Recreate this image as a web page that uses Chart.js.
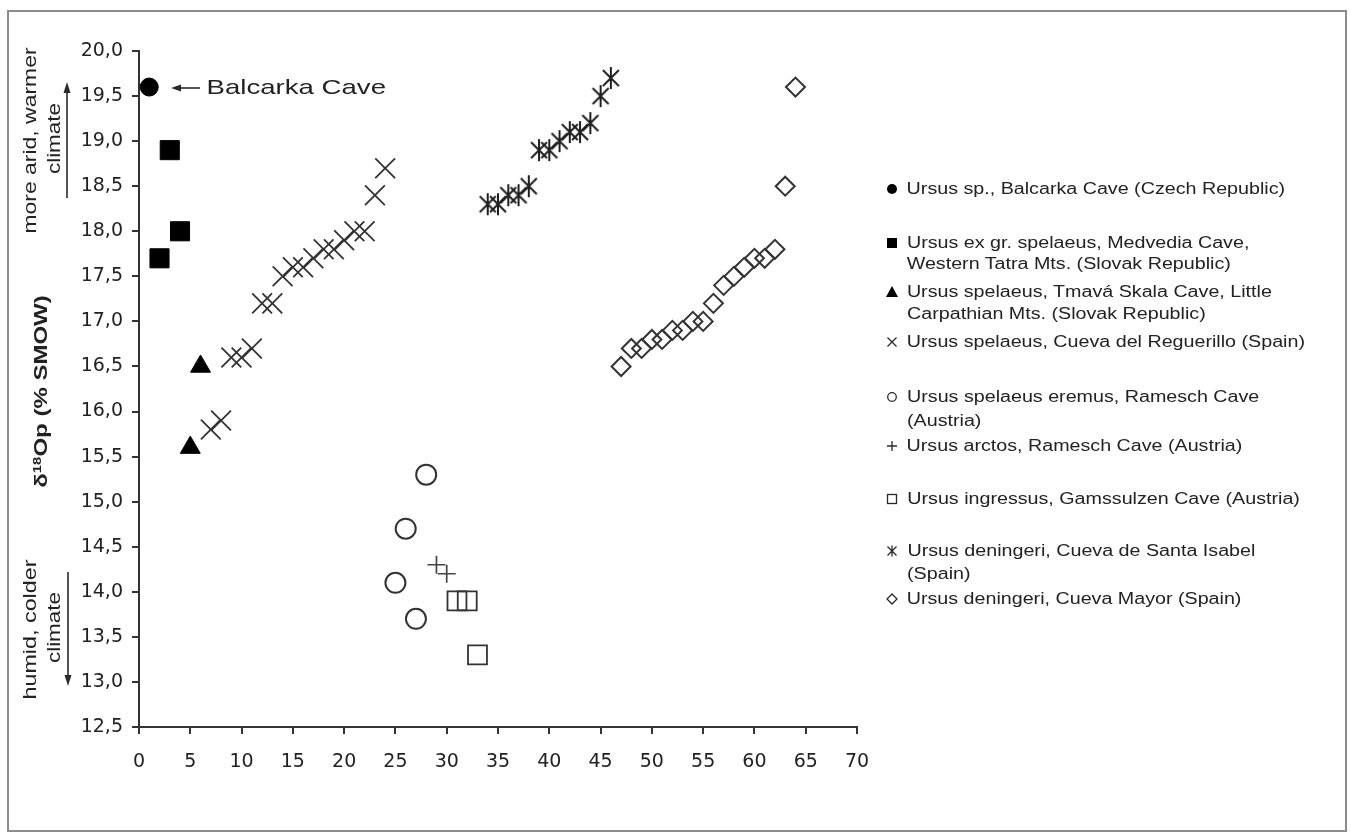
<!DOCTYPE html>
<html><head><meta charset="utf-8">
<script src="https://cdn.jsdelivr.net/npm/chart.js@4.4.1/dist/chart.umd.min.js"></script>
<style>
html,body{margin:0;padding:0;background:#fff;width:1351px;height:832px;overflow:hidden;}
#wrap{position:relative;width:1351px;height:832px;}
#c{position:absolute;left:0;top:0;}
#frame{position:absolute;left:7px;top:10px;width:1336px;height:818px;border:2px solid #8c8c8c;pointer-events:none;}
.t{position:absolute;white-space:nowrap;font-family:"Liberation Sans",Arial,sans-serif;color:#222;line-height:1;}
</style></head><body>
<div id="wrap">
<canvas id="c" width="1351" height="832"></canvas>
<svg id="ov" width="1351" height="832" style="position:absolute;left:0;top:0" xmlns="http://www.w3.org/2000/svg"></svg>
<div id="frame"></div>
</div>
<script>
// ---- data ----
const seriesNames = [
  "Ursus sp., Balcarka Cave (Czech Republic)",
  "Ursus ex gr. spelaeus, Medvedia Cave,\nWestern Tatra Mts. (Slovak Republic)",
  "Ursus spelaeus, Tmavá Skala Cave, Little\nCarpathian Mts. (Slovak Republic)",
  "Ursus spelaeus, Cueva del Reguerillo (Spain)",
  "Ursus spelaeus eremus, Ramesch Cave\n(Austria)",
  "Ursus arctos, Ramesch Cave (Austria)",
  "Ursus ingressus, Gamssulzen Cave (Austria)",
  "Ursus deningeri, Cueva de Santa Isabel\n(Spain)",
  "Ursus deningeri, Cueva Mayor (Spain)"
];
const balcarkaX = [1];
const balcarkaY = [19.6];
const medvediaX = [3, 4, 2];
const medvediaY = [18.9, 18.0, 17.7];
const tmavaX = [6, 5];
const tmavaY = [16.5, 15.6];
const reguerilloX = [7, 8, 9, 10, 11, 12, 13, 14, 15, 16, 17, 18, 19, 20, 21, 22, 23, 24];
const reguerilloY = [15.8, 15.9, 16.6, 16.6, 16.7, 17.2, 17.2, 17.5, 17.6, 17.6, 17.7, 17.8, 17.8, 17.9, 18.0, 18.0, 18.4, 18.7];
const rameschX = [28, 26, 25, 27];
const rameschY = [15.3, 14.7, 14.1, 13.7];
const arctosX = [29, 30];
const arctosY = [14.3, 14.2];
const gamssulzenX = [31, 32, 33];
const gamssulzenY = [13.9, 13.9, 13.3];
const santaIsabelX = [34, 35, 36, 37, 38, 39, 40, 41, 42, 43, 44, 45, 46];
const santaIsabelY = [18.3, 18.3, 18.4, 18.4, 18.5, 18.9, 18.9, 19.0, 19.1, 19.1, 19.2, 19.5, 19.7];
const mayorX = [47, 48, 49, 50, 51, 52, 53, 54, 55, 56, 57, 58, 59, 60, 61, 62, 63, 64];
const mayorY = [16.5, 16.7, 16.7, 16.8, 16.8, 16.9, 16.9, 17.0, 17.0, 17.2, 17.4, 17.5, 17.6, 17.7, 17.7, 17.8, 18.5, 19.6];
const xAxisMin = 0, xAxisMax = 70, xAxisStep = 5;
const yAxisMin = 12.5, yAxisMax = 20, yAxisStep = 0.5;
const yTitle = 'δ<span style="font-size:62%;position:relative;top:-0.55em">18</span>Op (% SMOW)';
const annotationUpper = ["more arid, warmer", "climate"];
const annotationLower = ["humid, colder", "climate"];
const calloutText = "Balcarka Cave";

// ---- chart ----
const pts = (xs, ys) => xs.map((x, i) => ({x: x, y: ys[i]}));
const star = document.createElement('canvas');
star.width = 22; star.height = 24;
(function(){
  const s = star.getContext('2d');
  s.strokeStyle = '#1e1e1e'; s.lineWidth = 2;
  s.beginPath();
  s.moveTo(3, 4); s.lineTo(19, 20);
  s.moveTo(19, 4); s.lineTo(3, 20);
  s.moveTo(11, 1); s.lineTo(11, 23);
  s.stroke();
})();
const none = 'rgba(0,0,0,0)';
const axisCommon = {
  grid: {display: true, drawOnChartArea: false, drawTicks: true, tickLength: 7, color: '#333', lineWidth: 2},
  border: {display: true, color: '#333', width: 2}
};
const tickFont = {family: 'DejaVu Sans', size: 19};
new Chart(document.getElementById('c').getContext('2d'), {
  type: 'scatter',
  data: {datasets: [
    {label: seriesNames[0], data: pts(balcarkaX, balcarkaY), pointStyle: 'circle', pointRadius: 9, backgroundColor: '#000', borderColor: '#000', borderWidth: 1},
    {label: seriesNames[1], data: pts(medvediaX, medvediaY), pointStyle: 'rect', pointRadius: 13.5, backgroundColor: '#000', borderColor: '#000', borderWidth: 1},
    {label: seriesNames[2], data: pts(tmavaX, tmavaY), pointStyle: 'triangle', pointRadius: 11.5, backgroundColor: '#000', borderColor: '#000', borderWidth: 1},
    {label: seriesNames[3], data: pts(reguerilloX, reguerilloY), pointStyle: 'crossRot', pointRadius: 14, backgroundColor: none, borderColor: '#333', borderWidth: 1.8},
    {label: seriesNames[4], data: pts(rameschX, rameschY), pointStyle: 'circle', pointRadius: 10, backgroundColor: none, borderColor: '#333', borderWidth: 2},
    {label: seriesNames[5], data: pts(arctosX, arctosY), pointStyle: 'cross', pointRadius: 9, backgroundColor: none, borderColor: '#444', borderWidth: 1.7},
    {label: seriesNames[6], data: pts(gamssulzenX, gamssulzenY), pointStyle: 'rect', pointRadius: 13.4, backgroundColor: none, borderColor: '#333', borderWidth: 1.8},
    {label: seriesNames[7], data: pts(santaIsabelX, santaIsabelY), pointStyle: star, pointRadius: 11, backgroundColor: none, borderColor: '#222'},
    {label: seriesNames[8], data: pts(mayorX, mayorY), pointStyle: 'rectRot', pointRadius: 9.5, backgroundColor: none, borderColor: '#333', borderWidth: 2}
  ]},
  options: {
    responsive: false, animation: false, devicePixelRatio: 1,
    layout: {padding: {left: 0, top: 51, right: 494, bottom: 0}},
    plugins: {legend: {display: false}, tooltip: {enabled: false}},
    scales: {
      x: Object.assign({
        type: 'linear', min: xAxisMin, max: xAxisMax,
        ticks: {stepSize: xAxisStep, font: tickFont, color: '#222', padding: 17, maxRotation: 0},
        afterFit: s => { s.height = 105; }
      }, axisCommon),
      y: Object.assign({
        type: 'linear', min: yAxisMin, max: yAxisMax,
        ticks: {stepSize: yAxisStep, font: tickFont, color: '#222', padding: 9,
          callback: v => v.toFixed(1).replace('.', ',')},
        afterFit: s => { s.width = 139; }
      }, axisCommon)
    }
  }
});

// ---- text ----
const wrap = document.getElementById('wrap');
function addText(html, o) {
  const el = document.createElement('div');
  el.className = 't';
  el.innerHTML = html;
  el.style.fontSize = o.size + 'px';
  if (o.bold) el.style.fontWeight = 'bold';
  wrap.appendChild(el);
  const w = el.offsetWidth, h = el.offsetHeight;
  const s = o.len ? o.len / w : (o.scale || 1);
  const cx = (o.left !== undefined) ? o.left + w * s / 2 : o.cx;
  el.style.left = (cx - w / 2) + 'px';
  el.style.top = (o.cy - h / 2) + 'px';
  el.style.transformOrigin = '50% 50%';
  el.style.transform = (o.rot ? 'rotate(-90deg) ' : '') + 'scaleX(' + s + ')';
  return el;
}
addText(calloutText, {left: 206, cy: 86, size: 21, len: 180});
addText(annotationUpper[0], {cx: 29, cy: 140, size: 19, len: 186, rot: true});
addText(annotationUpper[1], {cx: 53, cy: 138, size: 19, len: 71, rot: true});
addText(annotationLower[0], {cx: 29, cy: 629, size: 19, len: 140, rot: true});
addText(annotationLower[1], {cx: 53, cy: 627, size: 19, len: 71, rot: true});
addText(yTitle, {cx: 40, cy: 391, size: 19, bold: true, len: 192, rot: true});

// legend
const legendLineY = [[189], [243, 264], [292, 314], [342], [397, 421], [446], [499], [551, 574], [599]];
seriesNames.forEach((name, i) => {
  name.split('\n').forEach((line, j) => {
    addText(line, {left: 907, cy: legendLineY[i][j], size: 16, scale: 1.23});
  });
});

// ---- svg overlay: arrows and legend markers ----
const ov = document.getElementById('ov');
const NS = 'http://www.w3.org/2000/svg';
function sv(tag, attrs) {
  const e = document.createElementNS(NS, tag);
  for (const k in attrs) e.setAttribute(k, attrs[k]);
  ov.appendChild(e);
  return e;
}
const ink = '#2a2a2a';
sv('line', {x1: 67, y1: 198, x2: 67, y2: 90, stroke: ink, 'stroke-width': 1.6});
sv('polygon', {points: '67,82 63.5,93 70.5,93', fill: ink});
sv('line', {x1: 68, y1: 572, x2: 68, y2: 677, stroke: ink, 'stroke-width': 1.6});
sv('polygon', {points: '68,686 64.5,675 71.5,675', fill: ink});
sv('line', {x1: 200, y1: 88, x2: 178, y2: 88, stroke: ink, 'stroke-width': 1.6});
sv('polygon', {points: '171,88 181,84.5 181,91.5', fill: ink});

const mx = 892;
const my = legendLineY.map(a => a[0]);
sv('circle', {cx: mx, cy: my[0], r: 5, fill: '#000'});
sv('rect', {x: mx - 5, y: my[1] - 5, width: 10, height: 10, fill: '#000'});
sv('polygon', {points: `${mx},${my[2]-6} ${mx-6},${my[2]+5} ${mx+6},${my[2]+5}`, fill: '#000'});
sv('path', {d: `M${mx-4.5},${my[3]-4.5}L${mx+4.5},${my[3]+4.5}M${mx+4.5},${my[3]-4.5}L${mx-4.5},${my[3]+4.5}`, stroke: ink, 'stroke-width': 1.3, fill: 'none'});
sv('circle', {cx: mx, cy: my[4], r: 4.3, fill: 'none', stroke: ink, 'stroke-width': 1.3});
sv('path', {d: `M${mx-5},${my[5]}L${mx+5},${my[5]}M${mx},${my[5]-5}L${mx},${my[5]+5}`, stroke: ink, 'stroke-width': 1.3, fill: 'none'});
sv('rect', {x: mx - 4.5, y: my[6] - 4.5, width: 9, height: 9, fill: 'none', stroke: ink, 'stroke-width': 1.3});
sv('path', {d: `M${mx-4.5},${my[7]-4.5}L${mx+4.5},${my[7]+4.5}M${mx+4.5},${my[7]-4.5}L${mx-4.5},${my[7]+4.5}M${mx},${my[7]-5.5}L${mx},${my[7]+5.5}`, stroke: ink, 'stroke-width': 1.3, fill: 'none'});
sv('polygon', {points: `${mx},${my[8]-5} ${mx+5},${my[8]} ${mx},${my[8]+5} ${mx-5},${my[8]}`, fill: 'none', stroke: ink, 'stroke-width': 1.3});
</script>
</body></html>
